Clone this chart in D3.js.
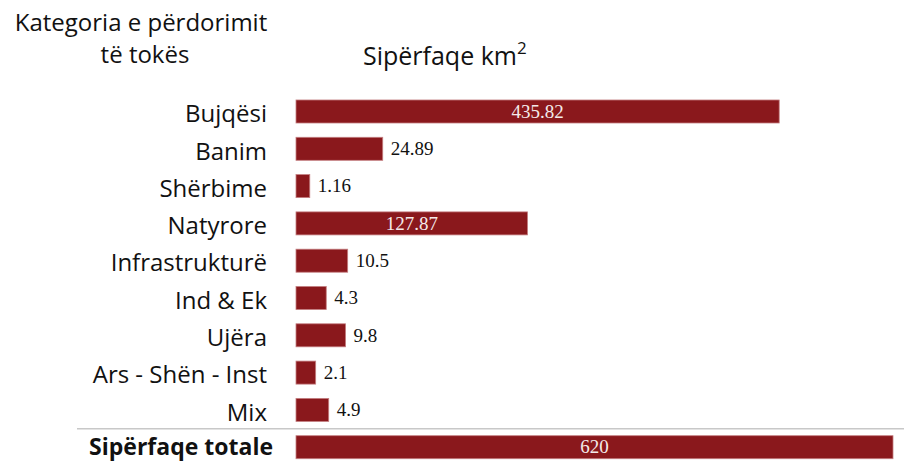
<!DOCTYPE html>
<html>
<head>
<meta charset="utf-8">
<script src="https://cdn.jsdelivr.net/npm/d3@7"></script>
<style>
  html, body { margin: 0; padding: 0; background: #fff; }
  svg { display: block; }
</style>
</head>
<body>
<svg id="chart" width="904" height="462"></svg>
<script>
// Land-use categories and their surface (km²)
const categories = ["Bujqësi", "Banim", "Shërbime", "Natyrore", "Infrastrukturë",
                    "Ind & Ek", "Ujëra", "Ars - Shën - Inst", "Mix", "Sipërfaqe totale"];
const values = [435.82, 24.89, 1.16, 127.87, 10.5, 4.3, 9.8, 2.1, 4.9, 620];
const valueLabels = ["435.82", "24.89", "1.16", "127.87", "10.5", "4.3", "9.8", "2.1", "4.9", "620"];
const totalLabel = "Sipërfaqe totale";

const rows = categories.map((c, i) => ({ cat: c, value: values[i], label: valueLabels[i] }));

const svg = d3.select("#chart");
const barColor = "#8a181c";
const sans = "'Open Sans', 'Noto Sans', sans-serif";
const serif = "'Liberation Serif', 'DejaVu Serif', serif";

const x0 = 296;
// Compressed scale so both small and large surfaces stay visible
const x = d3.scalePow().exponent(0.6).domain([0, 620]).range([0, 597]);
const y = d3.scaleBand().domain(categories).range([85.7, 473]).padding(0.383);

// Column headings
const head = svg.append("text")
  .attr("text-anchor", "middle")
  .attr("font-family", sans).attr("font-size", 24).attr("fill", "#111");
head.append("tspan").attr("x", 141).attr("y", 31).text("Kategoria e përdorimit");
head.append("tspan").attr("x", 145).attr("y", 63).text("të tokës");

const unit = svg.append("text")
  .attr("x", 363).attr("y", 65)
  .attr("font-family", sans).attr("font-size", 25).attr("fill", "#111");
unit.append("tspan").text("Sipërfaqe km");
unit.append("tspan").attr("font-size", 17).attr("dy", -11).text("2");

// Category labels
svg.append("g").selectAll("text")
  .data(rows).join("text")
  .attr("x", d => d.cat === totalLabel ? 273 : 267)
  .attr("y", d => y(d.cat) + y.bandwidth() / 2)
  .attr("dy", d => d.cat === totalLabel ? "0.34em" : "0.45em")
  .attr("text-anchor", "end")
  .attr("font-family", sans)
  .attr("font-size", d => d.cat === totalLabel ? 23 : 24)
  .attr("font-weight", d => d.cat === totalLabel ? 700 : 400)
  .attr("fill", "#111")
  .text(d => d.cat);

// Separator above the total row
const sepY = y(totalLabel) - 7;
svg.append("line")
  .attr("x1", 77).attr("x2", 904)
  .attr("y1", sepY).attr("y2", sepY)
  .attr("stroke", "#c8c8c8").attr("stroke-width", 1.5);

// Bars
svg.append("g").selectAll("rect")
  .data(rows).join("rect")
  .attr("x", x0)
  .attr("y", d => y(d.cat))
  .attr("width", d => x(d.value))
  .attr("height", y.bandwidth())
  .attr("fill", barColor)
  .attr("stroke", "#c47e80")
  .attr("stroke-width", 0.8);

// Value labels: inside (white, centred) for long bars, outside (black) otherwise
const inside = d => x(d.value) > 100;
svg.append("g").selectAll("text")
  .data(rows).join("text")
  .attr("x", d => inside(d) ? x0 + x(d.value) / 2 : x0 + x(d.value) + 8)
  .attr("y", d => y(d.cat) + y.bandwidth() / 2)
  .attr("dy", "0.33em")
  .attr("text-anchor", d => inside(d) ? "middle" : "start")
  .attr("font-family", serif)
  .attr("font-size", 19)
  .attr("fill", d => inside(d) ? "#f4eaea" : "#111")
  .text(d => d.label);
</script>
</body>
</html>
